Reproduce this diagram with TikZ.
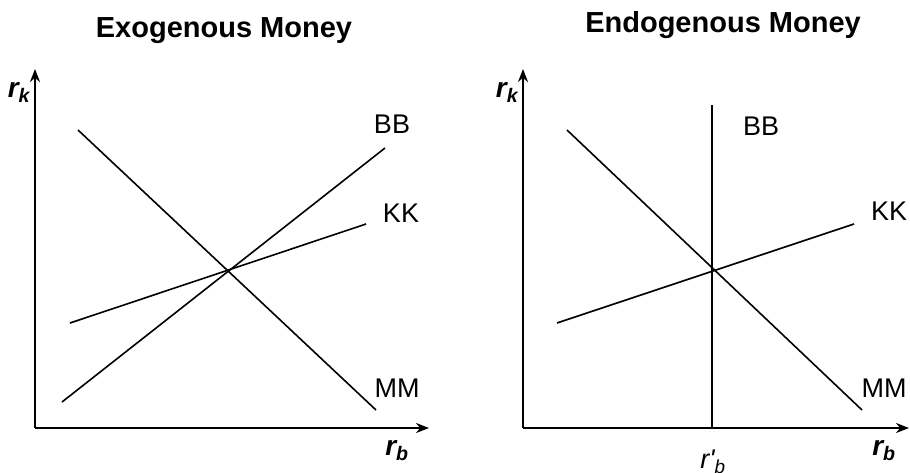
\documentclass[tikz,border=0pt]{standalone}
\usepackage{fontspec}
\setmainfont{Liberation Sans}
\usetikzlibrary{arrows.meta}
\begin{document}
\begin{tikzpicture}[x=1pt,y=-1pt,
  axis/.style={line width=2pt,-{Stealth[length=13pt,width=10pt]}},
  curve/.style={line width=1.6pt},
  ttl/.style={anchor=base,font=\fontsize{29}{34}\selectfont\bfseries,inner sep=0pt},
  lbl/.style={anchor=base,font=\fontsize{27}{32}\selectfont,inner sep=0pt},
  ax/.style={anchor=base,font=\fontsize{28}{32}\selectfont\bfseries\itshape,inner sep=0pt},
  axr/.style={anchor=base,font=\fontsize{27}{32}\selectfont\itshape,inner sep=0pt}]
\useasboundingbox (0,0) rectangle (910,472);
% left panel
\node[ttl] (t1) at (224,37) {Exogenous Money};
\coordinate (o1) at (35,428);
\coordinate (y1) at (35,69);
\coordinate (x1) at (429,428);
\draw[axis] (o1) -- (y1);
\draw[axis] (o1) -- (x1);
\node[ax] (rk1) at (19,97) {r\textsubscript{k}};
\node[ax] (rb1) at (397,455) {r\textsubscript{b}};
\coordinate (mm1a) at (78,130);
\coordinate (mm1b) at (376,410);
\coordinate (bb1a) at (62,402);
\coordinate (bb1b) at (385,148);
\coordinate (kk1a) at (70,323);
\coordinate (kk1b) at (366,224);
\draw[curve] (mm1a) -- (mm1b);
\draw[curve] (bb1a) -- (bb1b);
\draw[curve] (kk1a) -- (kk1b);
\node[lbl] (lbb1) at (392,133) {BB};
\node[lbl] (lkk1) at (401,222) {KK};
\node[lbl] (lmm1) at (397,397) {MM};
% right panel
\node[ttl] (t2) at (723,32) {Endogenous Money};
\coordinate (o2) at (523,428);
\coordinate (y2) at (523,69);
\coordinate (x2) at (909,428);
\draw[axis] (o2) -- (y2);
\draw[axis] (o2) -- (x2);
\node[ax] (rk2) at (507,97) {r\textsubscript{k}};
\node[ax] (rb2) at (884,455) {r\textsubscript{b}};
\coordinate (bb2a) at (712,105);
\coordinate (bb2b) at (712,428);
\coordinate (mm2a) at (567,130);
\coordinate (mm2b) at (862,410);
\coordinate (kk2a) at (557,323);
\coordinate (kk2b) at (854,224);
\draw[curve] (bb2a) -- (bb2b);
\draw[curve] (mm2a) -- (mm2b);
\draw[curve] (kk2a) -- (kk2b);
\node[axr] (rpb) at (713,468) {r\textquotesingle\textsubscript{b}};
\node[lbl] (lbb2) at (761,135) {BB};
\node[lbl] (lkk2) at (889,220) {KK};
\node[lbl] (lmm2) at (884,397) {MM};
\end{tikzpicture}
\end{document}
